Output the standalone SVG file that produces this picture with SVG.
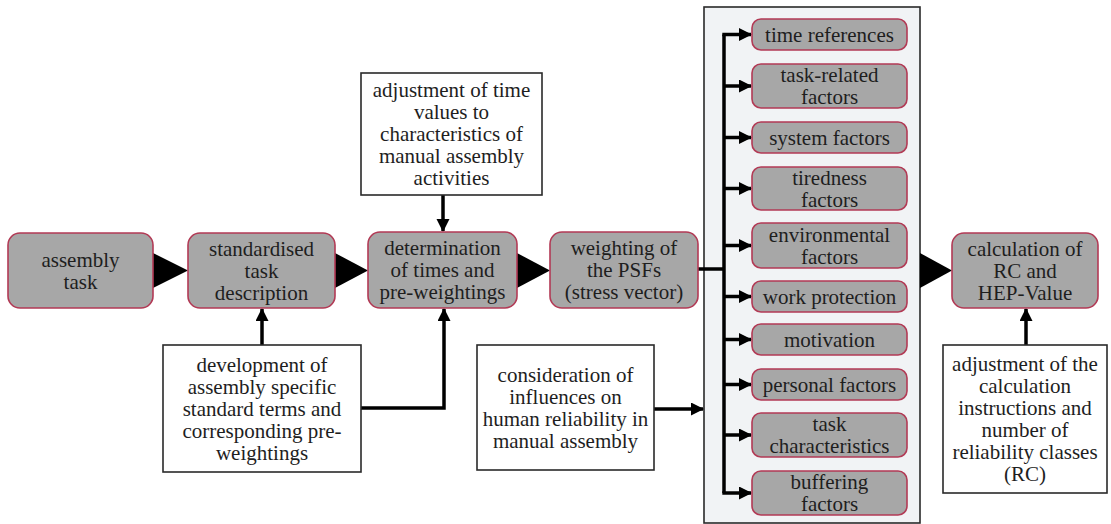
<svg xmlns="http://www.w3.org/2000/svg" width="1111" height="524" viewBox="0 0 1111 524">
<defs>
<marker id="ah" markerUnits="userSpaceOnUse" markerWidth="14" markerHeight="14" refX="12" refY="6.5" orient="auto">
<path d="M0,0 L13,6.5 L0,13 z" fill="#000"/>
</marker>
</defs>
<rect width="1111" height="524" fill="#ffffff"/>

<g id="container">
<rect x="704" y="7" width="216" height="516" fill="#f1f3f5" stroke="#2a2a2a" stroke-width="1.6"/>
</g>

<g id="connectors" fill="none" stroke="#000" stroke-width="3.5">
<polygon fill="#000" stroke="none" points="153,253 188,270.5 153,288"/>
<polygon fill="#000" stroke="none" points="335,253 368,270.5 335,288"/>
<polygon fill="#000" stroke="none" points="517,253 550,270.5 517,288"/>
<polygon fill="#000" stroke="none" points="920,253 952,270.5 920,288"/>
<path d="M443,195 V231" marker-end="url(#ah)"/>
<path d="M262,345 V309" marker-end="url(#ah)"/>
<path d="M361,408 H444 V309" marker-end="url(#ah)"/>
<path d="M654,409 H703" marker-end="url(#ah)"/>
<path d="M1026,345 V309" marker-end="url(#ah)"/>
<path d="M698,269 H724"/>
<path d="M724,34.5 V493"/>
<path d="M722.3,34.5 H751" marker-end="url(#ah)"/>
<path d="M724,86 H751" marker-end="url(#ah)"/>
<path d="M724,137.5 H751" marker-end="url(#ah)"/>
<path d="M724,188.5 H751" marker-end="url(#ah)"/>
<path d="M724,245.5 H751" marker-end="url(#ah)"/>
<path d="M724,296.5 H751" marker-end="url(#ah)"/>
<path d="M724,339.5 H751" marker-end="url(#ah)"/>
<path d="M724,384.5 H751" marker-end="url(#ah)"/>
<path d="M724,435 H751" marker-end="url(#ah)"/>
<path d="M722.3,493 H751" marker-end="url(#ah)"/>
</g>

<g id="assembly-task">
<rect x="8" y="233" width="145" height="75" rx="12" fill="#a7a7a7" stroke="#b23a55" stroke-width="1.6"/>
<text font-family="Liberation Serif" font-size="21" fill="#1e1e1e" x="80.5" y="266.5" text-anchor="middle">assembly</text>
<text font-family="Liberation Serif" font-size="21" fill="#1e1e1e" x="80.5" y="288.5" text-anchor="middle">task</text>
</g>
<g id="standardised">
<rect x="188" y="233" width="147" height="75" rx="12" fill="#a7a7a7" stroke="#b23a55" stroke-width="1.6"/>
<text font-family="Liberation Serif" font-size="21" fill="#1e1e1e" x="261.5" y="255.5" text-anchor="middle">standardised</text>
<text font-family="Liberation Serif" font-size="21" fill="#1e1e1e" x="261.5" y="277.5" text-anchor="middle">task</text>
<text font-family="Liberation Serif" font-size="21" fill="#1e1e1e" x="261.5" y="299.5" text-anchor="middle">description</text>
</g>
<g id="determination">
<rect x="368" y="232" width="149" height="76" rx="12" fill="#a7a7a7" stroke="#b23a55" stroke-width="1.6"/>
<text font-family="Liberation Serif" font-size="21" fill="#1e1e1e" x="442.5" y="255" text-anchor="middle">determination</text>
<text font-family="Liberation Serif" font-size="21" fill="#1e1e1e" x="442.5" y="277" text-anchor="middle">of times and</text>
<text font-family="Liberation Serif" font-size="21" fill="#1e1e1e" x="442.5" y="299" text-anchor="middle">pre-weightings</text>
</g>
<g id="weighting">
<rect x="550" y="232" width="148" height="76" rx="12" fill="#a7a7a7" stroke="#b23a55" stroke-width="1.6"/>
<text font-family="Liberation Serif" font-size="21" fill="#1e1e1e" x="624" y="255" text-anchor="middle">weighting of</text>
<text font-family="Liberation Serif" font-size="21" fill="#1e1e1e" x="624" y="277" text-anchor="middle">the PSFs</text>
<text font-family="Liberation Serif" font-size="21" fill="#1e1e1e" x="624" y="299" text-anchor="middle">(stress vector)</text>
</g>
<g id="calculation">
<rect x="952" y="233" width="146" height="75" rx="12" fill="#a7a7a7" stroke="#b23a55" stroke-width="1.6"/>
<text font-family="Liberation Serif" font-size="21" fill="#1e1e1e" x="1025" y="255.5" text-anchor="middle">calculation of</text>
<text font-family="Liberation Serif" font-size="21" fill="#1e1e1e" x="1025" y="277.5" text-anchor="middle">RC and</text>
<text font-family="Liberation Serif" font-size="21" fill="#1e1e1e" x="1025" y="299.5" text-anchor="middle">HEP-Value</text>
</g>

<g id="adj-time">
<rect x="361" y="73" width="181" height="122" fill="#ffffff" stroke="#2a2a2a" stroke-width="1.6"/>
<text font-family="Liberation Serif" font-size="21" fill="#1e1e1e" x="451.5" y="97" text-anchor="middle">adjustment of time</text>
<text font-family="Liberation Serif" font-size="21" fill="#1e1e1e" x="451.5" y="119" text-anchor="middle">values to</text>
<text font-family="Liberation Serif" font-size="21" fill="#1e1e1e" x="451.5" y="141" text-anchor="middle">characteristics of</text>
<text font-family="Liberation Serif" font-size="21" fill="#1e1e1e" x="451.5" y="163" text-anchor="middle">manual assembly</text>
<text font-family="Liberation Serif" font-size="21" fill="#1e1e1e" x="451.5" y="185" text-anchor="middle">activities</text>
</g>
<g id="development">
<rect x="163" y="345" width="198" height="127" fill="#ffffff" stroke="#2a2a2a" stroke-width="1.6"/>
<text font-family="Liberation Serif" font-size="21" fill="#1e1e1e" x="262" y="371.5" text-anchor="middle">development of</text>
<text font-family="Liberation Serif" font-size="21" fill="#1e1e1e" x="262" y="393.5" text-anchor="middle">assembly specific</text>
<text font-family="Liberation Serif" font-size="21" fill="#1e1e1e" x="262" y="415.5" text-anchor="middle">standard terms and</text>
<text font-family="Liberation Serif" font-size="21" fill="#1e1e1e" x="262" y="437.5" text-anchor="middle">corresponding pre-</text>
<text font-family="Liberation Serif" font-size="21" fill="#1e1e1e" x="262" y="459.5" text-anchor="middle">weightings</text>
</g>
<g id="consideration">
<rect x="477" y="345" width="177" height="125" fill="#ffffff" stroke="#2a2a2a" stroke-width="1.6"/>
<text font-family="Liberation Serif" font-size="21" fill="#1e1e1e" x="565.5" y="381.5" text-anchor="middle">consideration of</text>
<text font-family="Liberation Serif" font-size="21" fill="#1e1e1e" x="565.5" y="403.5" text-anchor="middle">influences on</text>
<text font-family="Liberation Serif" font-size="21" fill="#1e1e1e" x="565.5" y="425.5" text-anchor="middle">human reliability in</text>
<text font-family="Liberation Serif" font-size="21" fill="#1e1e1e" x="565.5" y="447.5" text-anchor="middle">manual assembly</text>
</g>
<g id="adj-calc">
<rect x="943" y="345" width="164" height="148" fill="#ffffff" stroke="#2a2a2a" stroke-width="1.6"/>
<text font-family="Liberation Serif" font-size="21" fill="#1e1e1e" x="1025" y="371" text-anchor="middle">adjustment of the</text>
<text font-family="Liberation Serif" font-size="21" fill="#1e1e1e" x="1025" y="393" text-anchor="middle">calculation</text>
<text font-family="Liberation Serif" font-size="21" fill="#1e1e1e" x="1025" y="415" text-anchor="middle">instructions and</text>
<text font-family="Liberation Serif" font-size="21" fill="#1e1e1e" x="1025" y="437" text-anchor="middle">number of</text>
<text font-family="Liberation Serif" font-size="21" fill="#1e1e1e" x="1025" y="459" text-anchor="middle">reliability classes</text>
<text font-family="Liberation Serif" font-size="21" fill="#1e1e1e" x="1025" y="481" text-anchor="middle">(RC)</text>
</g>

<g id="f-time-references">
<rect x="752" y="19" width="155" height="31" rx="9" fill="#a7a7a7" stroke="#b23a55" stroke-width="1.6"/>
<text font-family="Liberation Serif" font-size="21" fill="#1e1e1e" x="829.5" y="41.5" text-anchor="middle">time references</text>
</g>
<g id="f-task-related">
<rect x="752" y="64" width="155" height="44" rx="9" fill="#a7a7a7" stroke="#b23a55" stroke-width="1.6"/>
<text font-family="Liberation Serif" font-size="21" fill="#1e1e1e" x="829.5" y="82" text-anchor="middle">task-related</text>
<text font-family="Liberation Serif" font-size="21" fill="#1e1e1e" x="829.5" y="104" text-anchor="middle">factors</text>
</g>
<g id="f-system">
<rect x="752" y="122" width="155" height="31" rx="9" fill="#a7a7a7" stroke="#b23a55" stroke-width="1.6"/>
<text font-family="Liberation Serif" font-size="21" fill="#1e1e1e" x="829.5" y="144.5" text-anchor="middle">system factors</text>
</g>
<g id="f-tiredness">
<rect x="752" y="167" width="155" height="43" rx="9" fill="#a7a7a7" stroke="#b23a55" stroke-width="1.6"/>
<text font-family="Liberation Serif" font-size="21" fill="#1e1e1e" x="829.5" y="184.5" text-anchor="middle">tiredness</text>
<text font-family="Liberation Serif" font-size="21" fill="#1e1e1e" x="829.5" y="206.5" text-anchor="middle">factors</text>
</g>
<g id="f-environmental">
<rect x="752" y="223" width="155" height="45" rx="9" fill="#a7a7a7" stroke="#b23a55" stroke-width="1.6"/>
<text font-family="Liberation Serif" font-size="21" fill="#1e1e1e" x="829.5" y="241.5" text-anchor="middle">environmental</text>
<text font-family="Liberation Serif" font-size="21" fill="#1e1e1e" x="829.5" y="263.5" text-anchor="middle">factors</text>
</g>
<g id="f-work-protection">
<rect x="752" y="281" width="155" height="31" rx="9" fill="#a7a7a7" stroke="#b23a55" stroke-width="1.6"/>
<text font-family="Liberation Serif" font-size="21" fill="#1e1e1e" x="829.5" y="303.5" text-anchor="middle">work protection</text>
</g>
<g id="f-motivation">
<rect x="752" y="324" width="155" height="31" rx="9" fill="#a7a7a7" stroke="#b23a55" stroke-width="1.6"/>
<text font-family="Liberation Serif" font-size="21" fill="#1e1e1e" x="829.5" y="346.5" text-anchor="middle">motivation</text>
</g>
<g id="f-personal">
<rect x="752" y="369" width="155" height="31" rx="9" fill="#a7a7a7" stroke="#b23a55" stroke-width="1.6"/>
<text font-family="Liberation Serif" font-size="21" fill="#1e1e1e" x="829.5" y="391.5" text-anchor="middle">personal factors</text>
</g>
<g id="f-task-characteristics">
<rect x="752" y="413" width="155" height="44" rx="9" fill="#a7a7a7" stroke="#b23a55" stroke-width="1.6"/>
<text font-family="Liberation Serif" font-size="21" fill="#1e1e1e" x="829.5" y="431" text-anchor="middle">task</text>
<text font-family="Liberation Serif" font-size="21" fill="#1e1e1e" x="829.5" y="453" text-anchor="middle">characteristics</text>
</g>
<g id="f-buffering">
<rect x="752" y="471" width="155" height="44" rx="9" fill="#a7a7a7" stroke="#b23a55" stroke-width="1.6"/>
<text font-family="Liberation Serif" font-size="21" fill="#1e1e1e" x="829.5" y="489" text-anchor="middle">buffering</text>
<text font-family="Liberation Serif" font-size="21" fill="#1e1e1e" x="829.5" y="511" text-anchor="middle">factors</text>
</g>
</svg>
